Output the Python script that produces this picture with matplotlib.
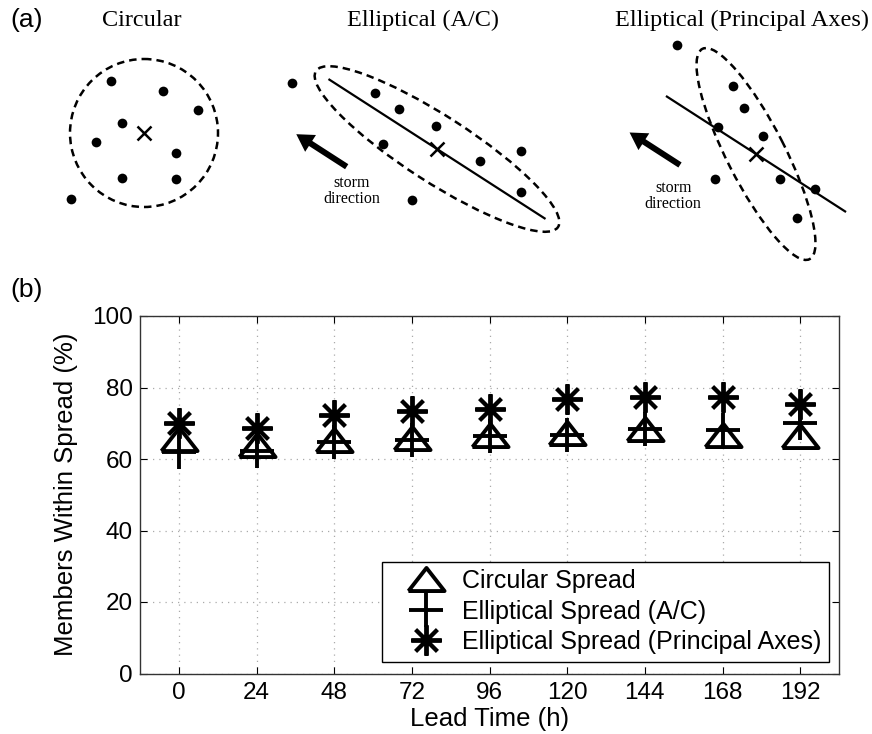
import matplotlib.pyplot as plt
from matplotlib.markers import MarkerStyle
from matplotlib.patches import Circle, Ellipse
import numpy as np

# ---- panel (b): percentage of members inside the spread ----
lead_time = [0, 24, 48, 72, 96, 120, 144, 168, 192]
circular_spread = [65.5, 64.0, 65.4, 66.0, 66.7, 67.4, 68.5, 66.7, 66.5]
elliptical_ac = [62.0, 62.3, 64.7, 65.4, 66.3, 66.8, 68.5, 68.2, 70.1]
elliptical_pa = [70.0, 68.7, 72.3, 73.4, 74.0, 76.9, 77.4, 77.3, 75.3]
series_labels = ["Circular Spread", "Elliptical Spread (A/C)",
                 "Elliptical Spread (Principal Axes)"]
y_ticks = [0, 20, 40, 60, 80, 100]

# ---- panel (a): schematic ensembles (pixel units, y pointing down) ----
panel_titles = ["Circular", "Elliptical (A/C)", "Elliptical (Principal Axes)"]
title_x = [142, 423, 742]

circ_x = [110.7, 163, 197.7, 121.7, 96, 175.7, 121.7, 175.7, 71]
circ_y = [81, 90.7, 110, 122.7, 142.3, 153.3, 177.7, 179, 199]
circ_centre = (144, 133)
circ_radius = 74

ac_x = [291.7, 375, 399.3, 435.7, 383.3, 480, 520.7, 520.7, 411.7]
ac_y = [83.3, 92.7, 109, 125.7, 144, 161, 150.7, 191.7, 200]
ac_centre = (437, 149)
ac_size = (288, 66)
ac_angle = 32.8
ac_line_half = 128

pa_x = [676.7, 733.3, 744, 718.3, 763.3, 715, 780, 815, 797.3]
pa_y = [45, 86, 108.3, 126.7, 136, 179, 179, 189.3, 218.3]
pa_centre = (756, 154)
pa_size = (236, 58)
pa_angle = 63
pa_line_half = 106

storm_angle = 32.8
arrow_tails = [(346.7, 166.7), (680, 165)]
arrow_len = 60
storm_text_pos = [(351.7, 191), (673.3, 196)]

fig = plt.figure(figsize=(8.72, 7.34), dpi=100)

# ---------------- panel (a) ----------------
ax_a = fig.add_axes([0, 1 - 270 / 734, 1, 270 / 734])
ax_a.set_xlim(0, 872)
ax_a.set_ylim(270, 0)
ax_a.axis("off")

dash = (0, (3, 2))
ax_a.add_patch(Circle(circ_centre, circ_radius, fill=False, lw=1.8, ls=dash, ec="k"))
ax_a.add_patch(Ellipse(ac_centre, ac_size[0], ac_size[1], angle=ac_angle,
                       fill=False, lw=1.8, ls=dash, ec="k"))
ax_a.add_patch(Ellipse(pa_centre, pa_size[0], pa_size[1], angle=pa_angle,
                       fill=False, lw=1.8, ls=dash, ec="k"))

# storm-direction axis lines
th = np.deg2rad(storm_angle)
for (cx, cy), half in [(ac_centre, ac_line_half), (pa_centre, pa_line_half)]:
    dx, dy = half * np.cos(th), half * np.sin(th)
    ax_a.plot([cx - dx, cx + dx], [cy - dy, cy + dy], color="k", lw=1.6)

for xs, ys, c in [(circ_x, circ_y, circ_centre), (ac_x, ac_y, ac_centre),
                  (pa_x, pa_y, pa_centre)]:
    ax_a.plot(xs, ys, "o", color="k", ms=7, mew=0)
    ax_a.plot(c[0], c[1], "x", color="k", ms=10, mew=1.8)

for (tx, ty) in arrow_tails:
    ax_a.arrow(tx, ty, -arrow_len * np.cos(th), -arrow_len * np.sin(th),
               width=6, head_width=20, head_length=17,
               length_includes_head=True, color="k", lw=0)

for (sx, sy) in storm_text_pos:
    ax_a.text(sx, sy, "storm\ndirection", ha="center", va="center",
              family="Liberation Serif", fontsize=11.5, linespacing=1.0)

for t, x in zip(panel_titles, title_x):
    ax_a.text(x, 20, t, ha="center", va="center",
              family="Liberation Serif", fontsize=17.5)
ax_a.text(10, 20, "(a)", ha="left", va="center",
          family="Liberation Sans", fontsize=19)

# ---------------- panel (b) ----------------
fig.text(10 / 872, 1 - 290 / 734, "(b)", ha="left", va="center",
         family="Liberation Sans", fontsize=19)

ax = fig.add_axes([140 / 872, 60.5 / 734, 699 / 872, 357.5 / 734])

tri = MarkerStyle([(-1, -0.64), (1, -0.64), (0, 0.64), (-1, -0.64)],
                  joinstyle="miter")
ax.plot(lead_time, circular_spread, ls="none", marker=tri, ms=26, mfc="none",
        mec="k", mew=2.8, label=series_labels[0], zorder=3)
ax.plot(lead_time, elliptical_ac, ls="none", marker="+", ms=24, mec="k",
        mew=2.8, label=series_labels[1], zorder=4)
ax.plot(lead_time, elliptical_pa, ls="none", marker=(8, 2, 0), ms=22, mec="k",
        mew=2.8, label=series_labels[2], zorder=5)

ax.set_xlim(-12, 204)
ax.set_ylim(0, 100)
ax.set_xticks(lead_time)
ax.set_yticks(y_ticks)
ax.grid(True, color="#aaaaaa", ls=(0, (1, 4)), lw=0.9)
ax.tick_params(direction="in", length=5, width=0.8, top=True, right=True,
               labelsize=17.5)
ax.tick_params(axis="x", pad=6)
ax.tick_params(axis="y", pad=5)
for tl in ax.get_xticklabels() + ax.get_yticklabels():
    tl.set_family("Liberation Sans")
for s in ax.spines.values():
    s.set_linewidth(1.0)
    s.set_color("#333333")

ax.set_xlabel("Lead Time (h)", family="Liberation Sans", fontsize=18.5, labelpad=2)
ax.set_ylabel("Members Within Spread (%)", family="Liberation Sans",
              fontsize=18.5, labelpad=10)

leg = ax.legend(loc="lower right", bbox_to_anchor=(829.3 / 872, 72.3 / 734),
                bbox_transform=fig.transFigure, borderaxespad=0,
                prop={"family": "Liberation Sans", "size": 18},
                fancybox=False, framealpha=1, edgecolor="k",
                borderpad=0.3, labelspacing=0.26, handlelength=2.9,
                handletextpad=0.0)
leg.get_frame().set_linewidth(1.0)

fig.savefig("out.png", dpi=100)
